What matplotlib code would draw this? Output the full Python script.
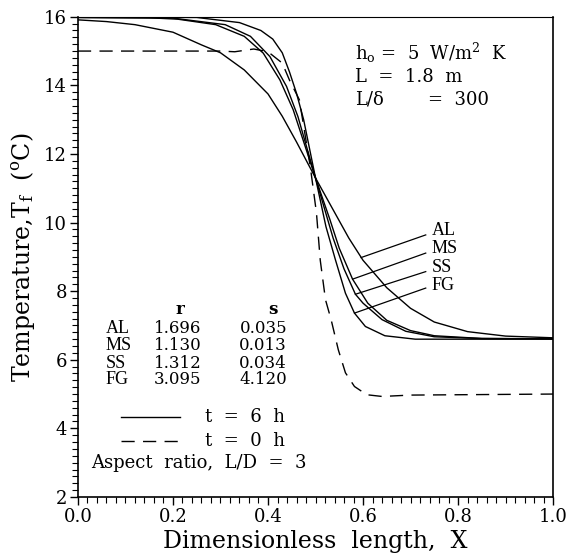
import matplotlib
matplotlib.use("Agg")
from matplotlib import pyplot as plt
from matplotlib.ticker import MultipleLocator

plt.rcParams['font.family'] = 'DejaVu Serif'
plt.rcParams['mathtext.fontset'] = 'dejavuserif'
plt.rcParams['lines.scale_dashes'] = False

# t = 6 h curves
x_al = [0.0, 0.06, 0.12, 0.20, 0.26, 0.30, 0.35, 0.40, 0.43, 0.46, 0.50,
        0.54, 0.57, 0.60, 0.65, 0.70, 0.75, 0.82, 0.90, 1.00]
t_al = [15.91, 15.86, 15.77, 15.55, 15.18, 14.95, 14.45, 13.75, 13.10, 12.35, 11.30,
        10.30, 9.55, 8.90, 8.10, 7.50, 7.10, 6.82, 6.69, 6.64]

x_ms = [0.0, 0.15, 0.21, 0.29, 0.35, 0.39, 0.425, 0.453, 0.50,
        0.53, 0.55, 0.578, 0.61, 0.65, 0.70, 0.75, 0.85, 1.00]
t_ms = [15.98, 15.97, 15.93, 15.77, 15.43, 14.94, 14.16, 13.29, 11.30,
        10.10, 9.25, 8.35, 7.65, 7.15, 6.85, 6.70, 6.62, 6.61]

x_ss = [0.0, 0.20, 0.31, 0.363, 0.404, 0.439, 0.463, 0.50,
        0.537, 0.56, 0.584, 0.60, 0.64, 0.69, 0.75, 0.85, 1.00]
t_ss = [15.98, 15.96, 15.77, 15.43, 14.84, 13.97, 13.09, 11.30,
        9.55, 8.65, 7.91, 7.65, 7.17, 6.83, 6.67, 6.62, 6.61]

x_fg = [0.0, 0.25, 0.34, 0.385, 0.41, 0.43, 0.445, 0.46, 0.475, 0.50,
        0.522, 0.542, 0.563, 0.582, 0.605, 0.646, 0.71, 1.00]
t_fg = [15.99, 15.98, 15.83, 15.60, 15.35, 14.95, 14.40, 13.77, 13.00, 11.30,
        9.88, 8.91, 7.94, 7.36, 6.97, 6.70, 6.60, 6.60]

# t = 0 h (dashed)
x_0 = [0.0, 0.30, 0.33, 0.37, 0.40, 0.43, 0.445, 0.466, 0.489, 0.502, 0.51,
       0.521, 0.533, 0.548, 0.563, 0.582, 0.608, 0.64, 0.70, 1.00]
t_0 = [15.0, 15.0, 14.98, 15.06, 14.98, 14.65, 14.16, 13.58, 11.63, 10.28, 8.9,
       7.75, 7.16, 6.29, 5.62, 5.22, 4.98, 4.93, 4.97, 5.00]

materials = ['AL', 'MS', 'SS', 'FG']
r_vals = ['1.696', '1.130', '1.312', '3.095']
s_vals = ['0.035', '0.013', '0.034', '4.120']
# where each leader line touches its curve
leader_end = [(0.596, 8.98), (0.578, 8.35), (0.584, 7.91), (0.582, 7.36)]

fig = plt.figure(figsize=(5.69, 5.59), dpi=100)
ax = fig.add_axes([0.137, 0.111, 0.835, 0.859])

for xs, ts in [(x_al, t_al), (x_ms, t_ms), (x_ss, t_ss), (x_fg, t_fg)]:
    ax.plot(xs, ts, color='black', lw=1.0)
ax.plot(x_0, t_0, color='black', lw=1.0, ls=(0, (9.5, 6)))

ax.set_xlim(0, 1)
ax.set_ylim(2, 16)
ax.xaxis.set_major_locator(MultipleLocator(0.2))
ax.xaxis.set_minor_locator(MultipleLocator(0.02))
ax.yaxis.set_major_locator(MultipleLocator(2))
ax.yaxis.set_minor_locator(MultipleLocator(0.2))
ax.xaxis.set_major_formatter(plt.FormatStrFormatter('%.1f'))
ax.tick_params(which='major', direction='out', length=6, width=1.0, labelsize=13, pad=2)
ax.tick_params(which='minor', direction='out', length=4, width=0.8)
ax.tick_params(top=False, right=False)
for side in ['left', 'bottom', 'right']:
    ax.spines[side].set_linewidth(1.2)
ax.spines['top'].set_linewidth(0.8)

ax.set_xlabel('Dimensionless  length,  X', fontsize=17, labelpad=3)
ax.set_ylabel(r'Temperature,T$_\mathregular{f}$  ($^\mathregular{o}$C)', fontsize=17, labelpad=5)

# parameters top right
ax.text(0.584, 14.95, r'h$_\mathregular{o}$ =  5  W/m$^\mathregular{2}$  K', fontsize=13, va='center')
ax.text(0.584, 14.25, 'L  =  1.8  m', fontsize=13, va='center')
ax.text(0.584, 13.58, 'L/δ', fontsize=13, va='center')
ax.text(0.737, 13.58, '=  300', fontsize=13, va='center')

# curve labels with leader lines
label_y = [9.76, 9.23, 8.70, 8.16]
start_y = [9.64, 9.11, 8.57, 8.09]
for name, ly, sy, (ex, ey) in zip(materials, label_y, start_y, leader_end):
    ax.plot([ex, 0.732], [ey, sy], color='black', lw=0.9)
    ax.text(0.744, ly, name, fontsize=13, va='center', family='Liberation Serif')

# r, s table
ax.text(0.215, 7.46, 'r', fontsize=12, ha='center', va='center', fontweight='bold')
ax.text(0.41, 7.46, 's', fontsize=12, ha='center', va='center', fontweight='bold')
row_y = [6.92, 6.43, 5.90, 5.41]
for name, r, s, y in zip(materials, r_vals, s_vals, row_y):
    ax.text(0.058, y, name, fontsize=13, va='center', family='Liberation Serif')
    ax.text(0.21, y, r, fontsize=12, ha='center', va='center')
    ax.text(0.39, y, s, fontsize=12, ha='center', va='center')

# line style key
ax.plot([0.091, 0.215], [4.34, 4.34], color='black', lw=1.0)
ax.plot([0.091, 0.215], [3.64, 3.64], color='black', lw=1.0, ls=(0, (9.5, 6)))
ax.text(0.268, 4.34, 't  =  6  h', fontsize=13, va='center')
ax.text(0.268, 3.64, 't  =  0  h', fontsize=13, va='center')
ax.text(0.027, 2.98, 'Aspect  ratio,  L/D  =  3', fontsize=13, va='center')

fig.savefig('out.png', dpi=100)
